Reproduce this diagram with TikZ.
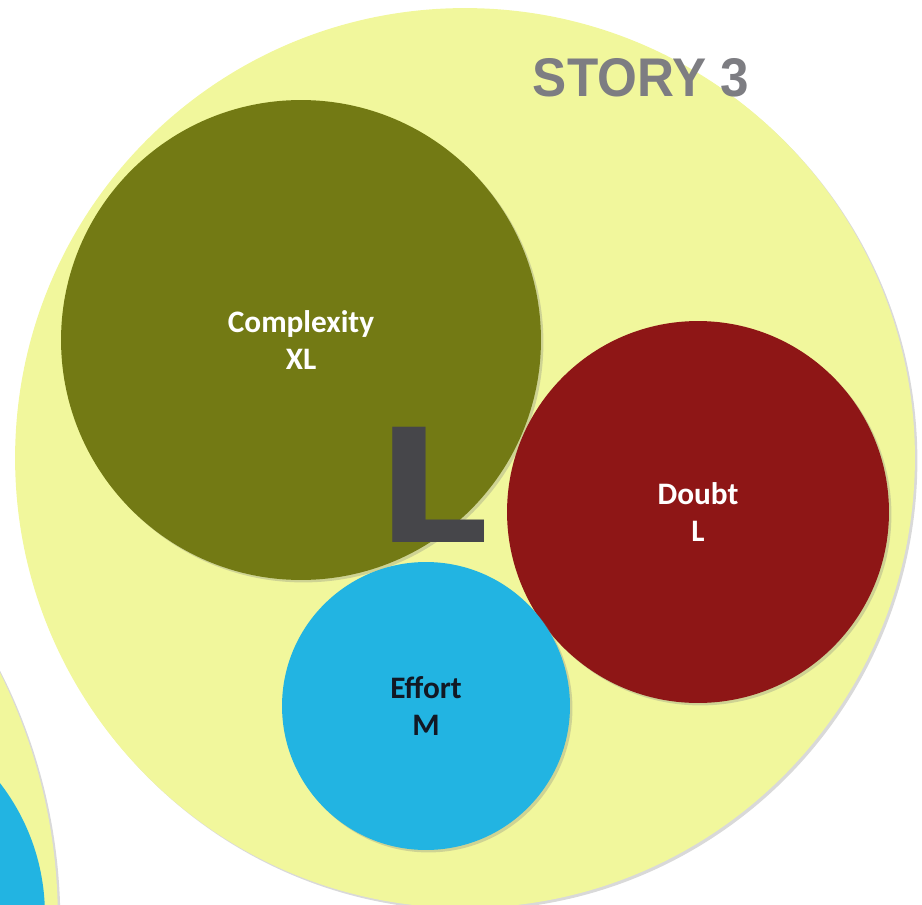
\documentclass[tikz,border=0pt]{standalone}
\usepackage{fontspec}
\usepackage{xcolor}
\usepackage{tikz}
\usetikzlibrary{shadows}

\newfontfamily\labelfont{Carlito}
\newfontfamily\titlefont{Liberation Sans}
\newfontfamily\bigfont{DejaVu Sans}

\definecolor{storyyellow}{RGB}{241,247,156}
\definecolor{complexolive}{RGB}{115,122,20}
\definecolor{doubtred}{RGB}{142,22,22}
\definecolor{effortblue}{RGB}{34,180,226}
\definecolor{titlegray}{RGB}{125,125,130}
\definecolor{sizegray}{RGB}{70,70,74}
\definecolor{inkdark}{RGB}{18,24,36}

\begin{document}
\begin{tikzpicture}[
    x=0.02cm, y=-0.02cm,
    bubble/.style={circle, inner sep=0pt, align=center,
        drop shadow={opacity=0.3, shadow xshift=1.4pt, shadow yshift=-1.4pt},
        font=\labelfont\bfseries\fontsize{17.8}{21}\selectfont},
    story/.style={bubble, fill=storyyellow, minimum size=18cm}
]
\clip (0,0) rectangle (922,905);

% next story, only its edge shows
\fill[storyyellow, drop shadow={opacity=0.3, shadow xshift=1.4pt, shadow yshift=-1.4pt}] (-497,920) circle[radius=11.1cm];
\fill[effortblue] (-171,915) circle[radius=4.32cm];

\node[story] (story) at (465,458) {};
\node[font=\titlefont\bfseries\fontsize{31}{36}\selectfont, text=titlegray, xscale=0.94]
    (title) at (641,78) {STORY 3};

\node[bubble, fill=complexolive, text=white, minimum size=9.6cm] (complexity) at (301,340) {Complexity\\XL};
\node[bubble, fill=doubtred, text=white, minimum size=7.64cm] (doubt) at (698,512) {Doubt\\L};
\node[bubble, fill=effortblue, text=inkdark, minimum size=5.76cm] (effort) at (426,706) {Effort\\M};

% overall size of the story
\node[inner sep=0pt, text=sizegray, xscale=1.12, font=\bigfont\bfseries\fontsize{90}{90}\selectfont]
    (size) at (433,485) {L};
\end{tikzpicture}
\end{document}
